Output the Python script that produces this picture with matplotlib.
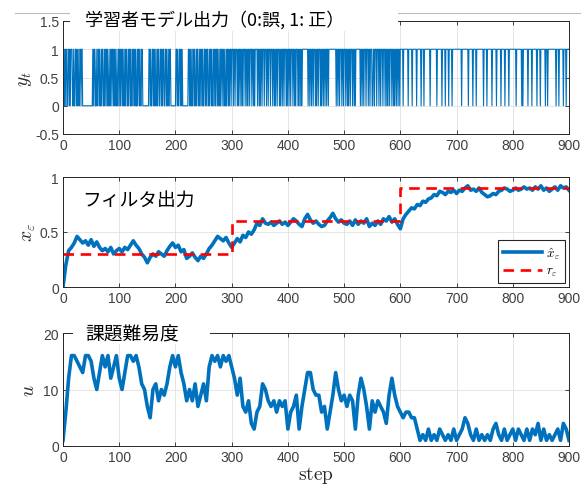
import numpy as np
import matplotlib
matplotlib.use("Agg")
import matplotlib.pyplot as plt
from matplotlib.lines import Line2D
from matplotlib.patches import Rectangle

plt.rcParams['font.family'] = ['Liberation Sans', 'DejaVu Sans']
plt.rcParams['mathtext.fontset'] = 'cm'

# learner model output y_t (0: wrong, 1: right), one char per step 1..900
y_rows = [
    "001011001101011100100110101001101100000000000000000010110010",
    "011010010110010110100100110110101001001101011010010110010110",
    "100110101001011010011000000000001101001101010010110011010110",
    "011010010110000000001101001101010000000000110101001101001011",
    "001011010011010110010110100110101101001011011010010110101101",
    "110110111010110110101110110101101110110101111011010110111011",
    "101101110111011010110111010110110111010110110111011010111010",
    "110101111111111011011011011101011011101011011011011011111111",
    "111110110110111011011101101011011101101011111111011011011101",
    "110110111001101110111011011101110110101101110110101101101101",
    "111101111111101111110111111101111111011110111111111101111111",
    "111101111111101111101111101111101111111111111111011111111111",
    "011111110111110111111111111011111011111111011111110111111101",
    "111110111111011111111111101111111110101111111101111110111111",
    "110111110111111110111011111111111111011110111111101111011111",
]

# filter output x_hat, every 5 steps from 0 to 900
xe_steps = np.arange(0, 901, 5)
xe_hat = [
    0.00, 0.20, 0.33, 0.36, 0.40, 0.46, 0.43, 0.40, 0.42, 0.38,
    0.43, 0.37, 0.41, 0.36, 0.33, 0.35, 0.32, 0.36, 0.30, 0.33,
    0.35, 0.32, 0.36, 0.34, 0.38, 0.42, 0.38, 0.35, 0.30, 0.27,
    0.22, 0.27, 0.30, 0.28, 0.32, 0.30, 0.28, 0.33, 0.37, 0.40,
    0.36, 0.38, 0.32, 0.34, 0.26, 0.28, 0.31, 0.27, 0.24, 0.28,
    0.26, 0.30, 0.35, 0.38, 0.42, 0.46, 0.44, 0.42, 0.45, 0.40,
    0.36, 0.40, 0.44, 0.41, 0.47, 0.45, 0.50, 0.48, 0.52, 0.58,
    0.56, 0.62, 0.58, 0.57, 0.59, 0.56, 0.58, 0.60, 0.57, 0.59,
    0.56, 0.59, 0.62, 0.60, 0.57, 0.55, 0.62, 0.66, 0.61, 0.58,
    0.60, 0.57, 0.55, 0.56, 0.60, 0.63, 0.67, 0.62, 0.59, 0.61,
    0.58, 0.57, 0.60, 0.56, 0.61, 0.57, 0.60, 0.58, 0.62, 0.55,
    0.58, 0.56, 0.60, 0.57, 0.62, 0.60, 0.64, 0.59, 0.62, 0.57,
    0.53, 0.62, 0.66, 0.69, 0.72, 0.71, 0.75, 0.74, 0.78, 0.77,
    0.80, 0.81, 0.84, 0.83, 0.87, 0.86, 0.84, 0.87, 0.86, 0.88,
    0.85, 0.88, 0.87, 0.90, 0.92, 0.88, 0.89, 0.87, 0.90, 0.86,
    0.84, 0.82, 0.83, 0.85, 0.84, 0.87, 0.88, 0.90, 0.89, 0.87,
    0.88, 0.90, 0.88, 0.89, 0.91, 0.89, 0.90, 0.88, 0.91, 0.89,
    0.92, 0.88, 0.90, 0.87, 0.89, 0.91, 0.88, 0.92, 0.90, 0.91,
    0.88,
]

# reference r_e (piecewise constant)
r_edges = [0, 300, 600, 900]
r_levels = [0.3, 0.6, 0.9]

# task difficulty u, every 5 steps from 0 to 900
u_vals = [
    1, 6, 12, 16, 16, 15, 14, 13, 16, 16,
    15, 12, 10, 13, 16, 14, 16, 12, 14, 16,
    12, 10, 13, 16, 16, 15, 16, 14, 11, 10,
    7, 5, 10, 11, 8, 10, 9, 11, 14, 16,
    14, 16, 13, 11, 8, 10, 8, 11, 7, 9,
    11, 8, 14, 16, 15, 16, 14, 16, 15, 16,
    14,
    12, 9, 12, 7, 6, 8, 4, 3, 6, 7,
    11, 10, 8, 7, 8, 6, 8, 7, 8, 3,
    6, 7, 9, 3, 7, 10, 13, 13, 10, 9,
    9, 6, 7, 3, 6, 9, 13, 10, 8, 9,
    7, 9, 8, 3, 9, 12, 10, 7, 3, 8,
    6, 8, 7, 6, 4, 9, 12, 9, 7, 6,
    5, 6, 6, 5, 5, 3,
    1, 2, 1, 3, 1, 2, 1, 3, 2, 1,
    2, 1, 3, 1, 2, 3, 5, 4, 2, 1,
    3, 1, 2, 1, 2, 1, 3, 4, 2, 1,
    3, 1, 2, 3, 1, 3, 2, 1, 3, 1,
    3, 2, 4, 1, 3, 1, 2, 1, 2, 3,
    1, 4, 3, 1,
]

blue = '#0072BD'
ink = '#262626'
W, H = 585, 489

fig = plt.figure(figsize=(W / 100, H / 100), dpi=100)


def px_axes(left, top, right, bottom):
    return fig.add_axes([left / W, 1 - bottom / H, (right - left) / W, (bottom - top) / H])


def style(ax, yticks, ylabels):
    ax.set_xlim(0, 900)
    ax.set_xticks(np.arange(0, 901, 100))
    ax.set_yticks(yticks)
    ax.set_yticklabels(ylabels)
    ax.tick_params(direction='in', top=True, right=True, length=3, width=0.6,
                   colors=ink, labelcolor='#404040', labelsize=10, pad=3)
    ax.grid(True, color='#e0e0e0', lw=0.6)
    ax.set_axisbelow(True)
    for s in ax.spines.values():
        s.set_color(ink)
        s.set_linewidth(0.7)


# panel 1: y_t
ax1 = px_axes(63, 22, 569, 135)
y_t = np.array([int(c) for c in "".join(y_rows)])
t = np.arange(1, len(y_t) + 1)
ax1.plot(t, y_t, color=blue, lw=0.8)
ax1.set_ylim(-0.5, 1.5)
style(ax1, [-0.5, 0, 0.5, 1, 1.5], ['-0.5', '0', '0.5', '1', '1.5'])
ax1.set_ylabel('$y_t$', fontsize=14, color=ink, labelpad=1)

# panel 2: filter output
ax2 = px_axes(63, 178, 569, 288)
ax2.plot(xe_steps, xe_hat, color=blue, lw=2.6, label=r'$\hat{x}_\varepsilon$')
r_x = np.repeat(r_edges, 2)[1:-1]
r_y = np.repeat(r_levels, 2)
ax2.plot(r_x, r_y, color='#FF0000', lw=1.9, ls=(0, (4, 2.5)), label=r'$r_\varepsilon$')
ax2.set_ylim(0, 1)
style(ax2, [0, 0.5, 1], ['0', '0.5', '1'])
ax2.set_ylabel(r'$x_\varepsilon$', fontsize=14, color=ink, labelpad=1)
leg = ax2.legend(loc='lower right', fontsize=9.5, handlelength=3.0, fancybox=False,
                 framealpha=1, borderaxespad=0.3, borderpad=0.35, labelspacing=0.3,
                 handletextpad=0.3)
leg.get_frame().set_edgecolor(ink)
leg.get_frame().set_linewidth(0.8)

# panel 3: task difficulty
ax3 = px_axes(63, 334, 569, 447)
ax3.plot(xe_steps, u_vals, color=blue, lw=2.6)
ax3.set_ylim(0, 20)
style(ax3, [0, 10, 20], ['0', '10', '20'])
ax3.set_ylabel('$u$', fontsize=14, color=ink, labelpad=4)
ax3.set_xlabel(r'$\mathrm{step}$', fontsize=14, color=ink, labelpad=0)

# thin grey rule at the very top and white boxes behind the titles
fig.add_artist(Line2D([15 / W, 580 / W], [1 - 14 / H, 1 - 14 / H], color='#bdbdbd',
                      lw=0.8, zorder=0.8))
fig.add_artist(Rectangle((70 / W, 1 - 32 / H), 328 / W, 26 / H, facecolor='white',
                         edgecolor='none', zorder=1))
fig.add_artist(Rectangle((73 / W, 1 - 345 / H), 137 / W, 22 / H, facecolor='white',
                         edgecolor='none', zorder=1))

jp = ['Noto Sans CJK JP', 'DejaVu Sans']
fig.text(85 / W, 1 - 20 / H, '学習者モデル出力（0:誤, 1: 正）', family=jp, fontsize=13,
         va='center', ha='left', zorder=3)
fig.text(82 / W, 1 - 200 / H, 'フィルタ出力', family=jp, fontsize=13.5,
         va='center', ha='left', zorder=3)
fig.text(85 / W, 1 - 335 / H, '課題難易度', family=jp, fontsize=13.5,
         va='center', ha='left', zorder=3)

fig.savefig('out.png', dpi=100)
